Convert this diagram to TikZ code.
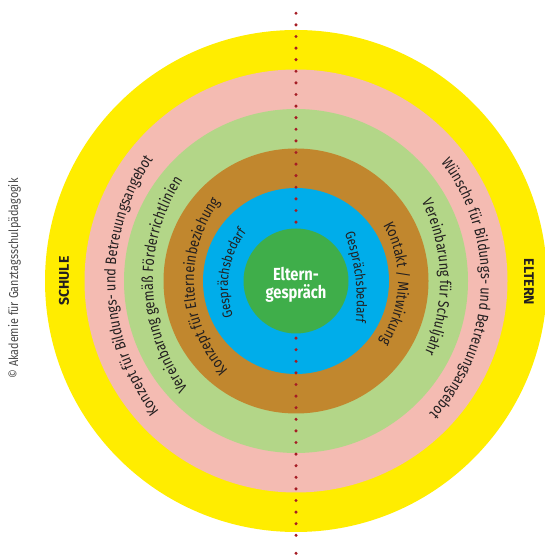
\documentclass[tikz,border=0pt]{standalone}
\usepackage{fontspec}
\usetikzlibrary{decorations.text,calc}
\newfontfamily\cond[FakeStretch=0.84]{Fira Sans}
\newfontfamily\plain{Fira Sans}
\definecolor{yellowc}{HTML}{FFED00}
\definecolor{pinkc}{HTML}{F4BBB2}
\definecolor{lgreenc}{HTML}{B3D688}
\definecolor{brownc}{HTML}{C1872E}
\definecolor{bluec}{HTML}{00ADEA}
\definecolor{greenc}{HTML}{3FAE4A}
\definecolor{dotc}{HTML}{A51C24}
\definecolor{textc}{HTML}{231F20}
\definecolor{copyc}{HTML}{4A4A4A}
\newcommand\ringfont{\cond\fontsize{15.2}{15.2}\selectfont\color{textc}}
\newcommand\smallringfont{\cond\fontsize{13.8}{13.8}\selectfont\color{textc}}
% #1,#2: offset of arc centre from C; #3 radius; #4 mid angle; #5 text; #6 font
\newcommand\ringtext[6]{%
  \path[decorate,decoration={text along path,text align=center,text={|#6|#5}}]
    ($(C)+(#1,#2)+(#4+60:#3)$) arc[start angle=#4+60,end angle=#4-60,radius=#3];}
\tikzset{
  dotline/.style={dotc,line width=3.4pt,line cap=round,dash pattern=on 0pt off 11.6pt},
  sidelabel/.style={font=\plain\bfseries\fontsize{14}{14}\selectfont,text=textc,inner sep=0pt},
  centerlabel/.style={font=\cond\bfseries\fontsize{17.5}{18}\selectfont,text=white,align=center,inner sep=0pt}
}
\begin{document}
\begin{tikzpicture}[x=1pt,y=1pt]
\useasboundingbox (0,0) rectangle (544,556);
\coordinate (C) at (296,275);
\fill[yellowc] (C) circle (251);
\fill[pinkc] (C) circle (211.5);
\fill[lgreenc] (C) circle (172);
\fill[brownc] (C) circle (132.5);
\fill[bluec] (C) circle (93);
\coordinate (dtop) at (296,542.7);
\coordinate (dbot) at (296,9.3);
\coordinate (dend) at (296,2.7);
\draw[dotline] (dtop) -- (dbot);
\fill[dotc] (dend) circle (1.7);
\fill[greenc] (C) circle (52.5);
\node[centerlabel] (mid) at ($(C)+(0,-4)$) {Eltern-\\gespräch};
\ringtext{35}{0}{215.5}{181.4}{Konzept für Bildungs- und Betreuungsangebot}{\ringfont}
\ringtext{-11}{0}{196}{-2.7}{Wünsche für Bildungs- und Betreuungsangebot}{\ringfont}
\ringtext{41}{0}{184}{181.4}{Vereinbarung gemäß Förderrichtlinien}{\ringfont}
\ringtext{-35}{0}{179}{1.2}{Vereinbarung für Schuljahr}{\ringfont}
\ringtext{32}{0}{134}{182.8}{Konzept für Elterneinbeziehung}{\ringfont}
\ringtext{-10}{0}{112}{-1.5}{Kontakt / Mitwirkung}{\ringfont}
\ringtext{22}{-5.9}{90}{171}{Gesprächsbedarf}{\smallringfont}
\ringtext{-135.2}{-20.5}{196}{7.1}{Gesprächsbedarf}{\smallringfont}
\node[sidelabel,rotate=90] (schule) at (64,275) {SCHULE};
\node[sidelabel,rotate=-90] (eltern) at (529,274) {ELTERN};
\node[rotate=90,font=\cond\fontsize{12.9}{12.9}\selectfont,text=copyc,inner sep=0pt] (copy) at (14.5,277.5) {© Akademie für Ganztagsschulpädagogik};
\end{tikzpicture}
\end{document}
